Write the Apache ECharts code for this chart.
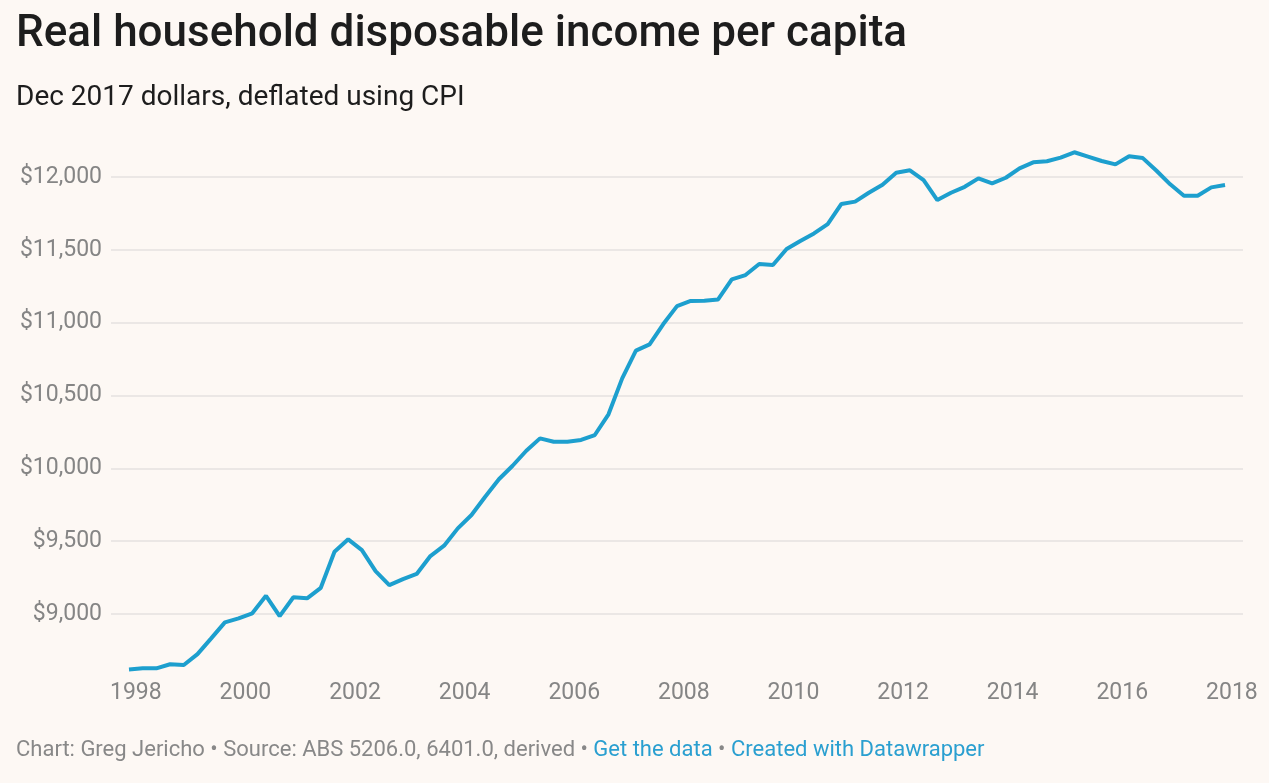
<!DOCTYPE html>
<html>
<head>
<meta charset="utf-8">
<script src="https://cdn.jsdelivr.net/npm/echarts@6/dist/echarts.min.js"></script>
<style>
html,body{margin:0;padding:0;background:#fdf8f4;}
#chart{width:1269px;height:783px;}
</style>
</head>
<body>
<div id="chart"></div>
<script>
// Quarter labels (Dec quarter 1997 to Dec quarter 2017)
const quarters = [
  "1997-Q4",
  "1998-Q1","1998-Q2","1998-Q3","1998-Q4",
  "1999-Q1","1999-Q2","1999-Q3","1999-Q4",
  "2000-Q1","2000-Q2","2000-Q3","2000-Q4",
  "2001-Q1","2001-Q2","2001-Q3","2001-Q4",
  "2002-Q1","2002-Q2","2002-Q3","2002-Q4",
  "2003-Q1","2003-Q2","2003-Q3","2003-Q4",
  "2004-Q1","2004-Q2","2004-Q3","2004-Q4",
  "2005-Q1","2005-Q2","2005-Q3","2005-Q4",
  "2006-Q1","2006-Q2","2006-Q3","2006-Q4",
  "2007-Q1","2007-Q2","2007-Q3","2007-Q4",
  "2008-Q1","2008-Q2","2008-Q3","2008-Q4",
  "2009-Q1","2009-Q2","2009-Q3","2009-Q4",
  "2010-Q1","2010-Q2","2010-Q3","2010-Q4",
  "2011-Q1","2011-Q2","2011-Q3","2011-Q4",
  "2012-Q1","2012-Q2","2012-Q3","2012-Q4",
  "2013-Q1","2013-Q2","2013-Q3","2013-Q4",
  "2014-Q1","2014-Q2","2014-Q3","2014-Q4",
  "2015-Q1","2015-Q2","2015-Q3","2015-Q4",
  "2016-Q1","2016-Q2","2016-Q3","2016-Q4",
  "2017-Q1","2017-Q2","2017-Q3","2017-Q4"
];
// Real household disposable income per capita, Dec 2017 dollars
const income = [
  8620,
  8627, 8627, 8655, 8650,
  8725, 8833, 8943, 8970,
  9005, 9125, 8986, 9115,
  9108, 9180, 9428, 9513,
  9439, 9295, 9199, 9240,
  9275, 9398, 9469, 9588,
  9680, 9805, 9925, 10018,
  10121, 10206, 10183, 10183,
  10195, 10229, 10371, 10618,
  10808, 10851, 10991, 11114,
  11149, 11150, 11160, 11298,
  11327, 11403, 11396, 11506,
  11561, 11613, 11677, 11815,
  11831, 11892, 11947, 12030,
  12046, 11979, 11842, 11892,
  11933, 11991, 11957, 11995,
  12060, 12101, 12108, 12133,
  12170, 12140, 12110, 12087,
  12142, 12130, 12043, 11950,
  11872, 11872, 11929, 11945
];
const xTicks = [1998, 2000, 2002, 2004, 2006, 2008, 2010, 2012, 2014, 2016, 2018];
const yTicks = [9000, 9500, 10000, 10500, 11000, 11500, 12000];

const titleText = "Real household disposable income per capita";
const subtitleText = "Dec 2017 dollars, deflated using CPI";

// quarter label -> fractional year at mid-quarter
function qToYear(q) {
  const [y, qq] = q.split("-Q");
  return Number(y) + (Number(qq) - 0.5) / 4;
}
const seriesData = quarters.map((q, i) => [qToYear(q), income[i]]);

const chart = echarts.init(document.getElementById('chart'), null, {renderer: 'canvas'});
const FONT = 'Roboto';
const option = {
  backgroundColor: '#fdf8f4',
  animation: false,
  graphic: [
    {type: 'text', left: 16, top: 13, style: {text: titleText, font: '500 44px Roboto', fill: '#1d1d1d'}},
    {type: 'text', left: 16, top: 84, style: {text: subtitleText, font: '400 28px Roboto', fill: '#1d1d1d'}},
    {type: 'text', left: 16, top: 739, style: {
      text: '{g|Chart: Greg Jericho • Source: ABS 5206.0, 6401.0, derived • }{b|Get the data}{g| • }{b|Created with Datawrapper}',
      rich: {
        g: {fontFamily: FONT, fontSize: 22, fill: '#888888', color: '#888888'},
        b: {fontFamily: FONT, fontSize: 22, fill: '#2a9fd0', color: '#2a9fd0'}
      }
    }}
  ],
  grid: {left: 111, right: 26, top: 147.9, height: 524.4, containLabel: false},
  xAxis: {
    type: 'value',
    min: 1997.547,
    max: 2018.203,
    axisLine: {show: false},
    axisTick: {show: false},
    splitLine: {show: false},
    axisLabel: {
      customValues: xTicks,
      formatter: v => String(v),
      fontFamily: FONT, fontSize: 23, color: '#858585', margin: 9
    }
  },
  yAxis: {
    type: 'value',
    min: 8600,
    max: 12200,
    axisLine: {show: false},
    axisTick: {show: false, customValues: yTicks},
    splitLine: {show: true, lineStyle: {color: '#e4e2e0', width: 1.5}},
    axisLabel: {
      customValues: yTicks,
      formatter: v => '$' + v.toLocaleString('en-US'),
      fontFamily: FONT, fontSize: 23, color: '#858585', margin: 9
    }
  },
  series: [{
    type: 'line',
    data: seriesData,
    showSymbol: false,
    symbol: 'none',
    lineStyle: {color: '#1d9fce', width: 4},
    itemStyle: {color: '#1d9fce'}
  }]
};
chart.setOption(option);
</script>
</body>
</html>
